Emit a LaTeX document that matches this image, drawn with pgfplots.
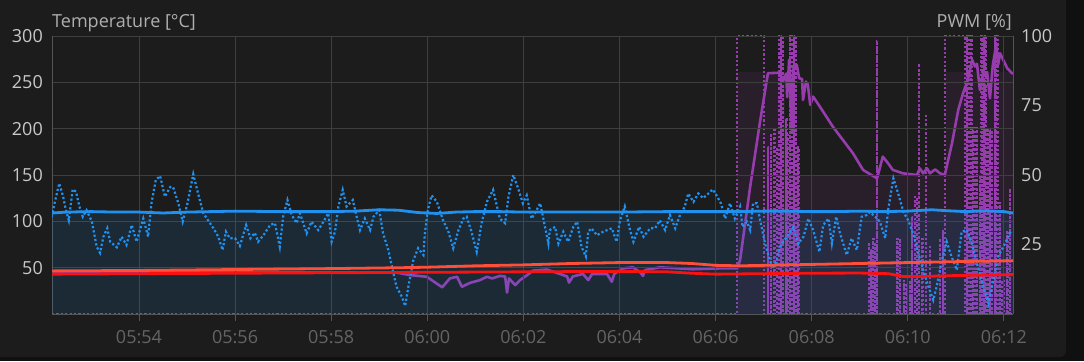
\documentclass[border=0pt]{standalone}
\usepackage{pgfplots}
\pgfplotsset{compat=1.18}
\usepackage{fontspec}
\setmainfont{Open Sans}
\definecolor{bgc}{RGB}{28,28,28}
\definecolor{outerc}{RGB}{16,16,16}
\definecolor{gridc}{RGB}{62,62,62}
\definecolor{axc}{RGB}{85,85,85}
\definecolor{bluel}{RGB}{33,145,240}
\definecolor{redl}{RGB}{250,18,18}
\definecolor{orangel}{RGB}{255,78,58}
\definecolor{purp}{RGB}{150,60,172}
\definecolor{ticklab}{RGB}{200,200,200}
\definecolor{xlab}{RGB}{100,100,100}
\definecolor{titlec}{RGB}{175,175,175}
\begin{document}
\begin{tikzpicture}[x=1bp,y=1bp]
\path[use as bounding box] (0,0) rectangle (1084,361);
\fill[outerc] (0,0) rectangle (1084,361);
\fill[bgc,rounded corners=6bp] (-10,4) rectangle (1066,371);
\fontsize{18bp}{22bp}\selectfont
% ---------- right axis: PWM ----------
\begin{axis}[
  at={(52bp,47bp)}, anchor=south west,
  scale only axis, width=961bp, height=278bp,
  xmin=52.19, xmax=72.19, ymin=0, ymax=100,
  axis x line=none, axis y line*=right,
  axis line style={draw=axc, line width=0.8bp},
  ytick={25,50,75,100},
  ytick style={draw=none},
  /pgf/number format/assume math mode=true,
  yticklabel style={anchor=west, inner sep=0pt, xshift=8bp, text=ticklab, font=\fontsize{18bp}{22bp}\selectfont},
  clip=true,
]
% PWM limit shading
\addplot[const plot mark left, fill=purp, fill opacity=0.10, draw=none] coordinates {
 (52.19,0) (66.45,87) (67.44,50) (70.80,87) (72.19,87)} \closedcycle;
% PWM output (dotted)
\addplot[const plot mark left, purp, line width=2.2bp, dash pattern=on 2.2bp off 2.2bp] coordinates {
 (52.19,0) (66.45,100) (67.01,0)
 (67.085,60) (67.095,0) (67.145,65) (67.155,0) (67.215,67) (67.225,0) (67.275,60) (67.285,0)
 (67.315,100) (67.325,0) (67.355,100) (67.365,0) (67.395,100) (67.405,0) (67.465,70) (67.475,0)
 (67.505,65) (67.515,0) (67.545,100) (67.555,0) (67.585,100) (67.595,0) (67.625,100) (67.635,0)
 (67.665,100) (67.675,0) (67.715,60) (67.725,0)
 (69.185,25) (69.195,0) (69.225,23) (69.235,0) (69.275,27) (69.285,0) (69.315,25) (69.325,0)
 (69.355,98) (69.365,0)
 (69.775,27) (69.785,0) (69.835,27) (69.845,0) (69.915,12) (69.925,0) (69.975,11) (69.985,0)
 (70.045,12) (70.055,0) (70.085,35) (70.095,0) (70.145,42) (70.155,0) (70.185,42) (70.195,0)
 (70.225,90) (70.235,0) (70.295,27) (70.305,0) (70.375,72) (70.385,0) (70.455,24) (70.465,0)
 (70.665,27) (70.675,0) (70.725,30) (70.735,0)
 (70.77,100) (71.19,0)
 (71.225,100) (71.235,0) (71.265,100) (71.275,0) (71.315,100) (71.325,0) (71.355,67) (71.365,0)
 (71.395,67) (71.405,0) (71.435,67) (71.445,0) (71.495,50) (71.505,0) (71.535,100) (71.545,0)
 (71.585,100) (71.595,0) (71.625,100) (71.635,0) (71.665,66) (71.675,0) (71.705,66) (71.715,0)
 (71.745,66) (71.755,0) (71.815,100) (71.825,0) (71.855,100) (71.865,0) (71.915,40) (71.925,0)
 (71.955,12) (71.965,0) (71.995,12) (72.005,0) (72.065,30) (72.075,0) (72.125,45) (72.135,0)
 (72.19,0)};
% PWM (solid)
\addplot[purp, line width=2.6bp, line join=round] coordinates {
 (52.19,15) (59.33,15) (59.64,14) (59.99,13.4) (60.31,9.6) (60.47,12.8) (60.62,13.4) (60.72,9.8)
 (60.89,11.2) (61.10,12.2) (61.24,13.4) (61.35,12.8) (61.51,13.7) (61.62,13.5) (61.66,7.7)
 (61.70,12.8) (61.83,10.4) (61.93,12.2) (62.08,14) (62.20,15.6) (62.49,16) (62.76,14.4)
 (62.91,13.5) (62.95,11.3) (63.03,13.5) (63.24,14.4) (63.35,12.2) (63.43,14.4) (63.74,14.4)
 (63.84,11.6) (63.89,14.4) (64.07,16.4) (64.28,16.8) (64.43,15) (64.49,13.7) (64.53,15.8)
 (64.84,16.8) (65.53,16.1) (66.09,16.4) (66.45,16.4) (66.51,19.4) (66.72,45.8) (66.92,68.6)
 (67.09,86.6) (67.34,86.8) (67.40,83.6) (67.47,86.5) (67.49,78) (67.53,91.4) (67.59,66)
 (67.61,87.8) (67.69,89.6) (67.74,84.8) (67.80,84.5) (67.82,77) (67.88,83.6) (67.92,82.5)
 (67.97,75.2) (68.03,78.2) (68.17,74.6) (68.44,67.4) (68.65,62.6) (68.86,57.8) (69.07,51.8)
 (69.36,48.8) (69.38,50) (69.48,56.6) (69.59,54.2) (69.69,51.8) (69.90,50.6) (70.19,50)
 (70.25,52.4) (70.32,50.6) (70.40,52.4) (70.46,50.6) (70.57,52) (70.67,50.6) (70.77,50)
 (70.92,61.4) (71.05,73.4) (71.15,79.4) (71.25,84.2) (71.34,91.4) (71.40,89) (71.44,90)
 (71.50,80.6) (71.57,86.6) (71.65,87) (71.71,77.6) (71.77,89.6) (71.84,96.8) (71.88,89.6)
 (71.92,93.8) (72.07,88.4) (72.17,86.6) (72.19,86.6)};
\end{axis}
% ---------- left axis: temperature ----------
\begin{axis}[
  at={(52bp,47bp)}, anchor=south west,
  scale only axis, width=961bp, height=278bp,
  xmin=52.19, xmax=72.19, ymin=0, ymax=300,
  axis x line*=bottom, axis y line*=left,
  axis line style={draw=axc, line width=0.8bp},
  xtick={54,56,58,60,62,64,66,68,70,72},
  xticklabels={05:54,05:56,05:58,06:00,06:02,06:04,06:06,06:08,06:10,06:12},
  xtick align=outside, major tick length=7bp,
  xtick style={draw=axc, line width=0.8bp},
  ytick={50,100,150,200,250,300},
  ytick style={draw=none},
  grid=major,
  major grid style={draw=gridc, line width=0.8bp},
  /pgf/number format/assume math mode=true,
  yticklabel style={anchor=east, inner sep=0pt, xshift=-9bp, text=ticklab, font=\fontsize{18bp}{22bp}\selectfont},
  xticklabel style={anchor=north, inner sep=0pt, yshift=-9.5bp, text=xlab, font=\fontsize{18bp}{22bp}\selectfont},
  clip=true,
]
% fill below temperature
\addplot[fill=bluel, fill opacity=0.12, draw=none] coordinates {
 (52.19,109) (52.5,110) (53,110.5) (53.5,110) (54,110) (54.5,109) (55,110) (55.5,110.5)
 (56,111) (57,110.5) (58,110.5) (58.5,111) (59,112.5) (59.4,112) (59.8,109.5) (60.2,108.5)
 (60.6,110) (61,110.5) (61.5,110.5) (62,110) (62.5,110) (63,110) (64,110) (65,110.5)
 (66,110.5) (66.5,110.5) (67,111) (67.5,111) (68,110.5) (68.5,110.5) (69,111) (69.5,110.5)
 (70,111) (70.5,112.5) (70.8,111.5) (71.2,110.5) (71.6,111.5) (72,110.5) (72.19,109)} \closedcycle;
% noisy temperature (dotted)
\addplot[bluel, line width=2.2bp, dash pattern=on 2.2bp off 2.2bp] coordinates {
 (52.18,105)(52.25,121)(52.34,141)(52.42,127)(52.48,112)(52.54,101)(52.62,134.5)(52.69,132)
 (52.76,116)(52.83,105)(52.91,112)(53.02,99.6)(53.12,72.6)(53.19,66)(53.26,83.4)(53.34,92.5)
 (53.40,78)(53.54,72)(53.64,83.4)(53.74,74.5)(53.85,96)(53.95,78)(54.09,103)(54.19,83.4)
 (54.26,119.5)(54.35,144.6)(54.44,149)(54.54,126.6)(54.65,137)(54.71,137)(54.82,119.5)
 (54.91,99.6)(55.01,119.5)(55.13,151)(55.23,130)(55.34,108.7)(55.44,101)(55.55,92.5)
 (55.65,83.4)(55.74,69)(55.81,88.8)(55.89,81.7)(56.00,81.7)(56.10,73.4)(56.23,96)(56.32,81.7)
 (56.41,87.7)(56.48,78)(56.59,85)(56.73,96)(56.83,98)(56.93,72.6)(57.00,105)(57.09,123)
 (57.18,106.8)(57.28,98)(57.35,108.7)(57.49,87)(57.59,99.6)(57.73,90.6)(57.84,99.6)
 (57.94,108.7)(58.01,78)(58.08,88.8)(58.15,116)(58.24,134)(58.32,116)(58.45,123)(58.53,105)
 (58.60,90.6)(58.70,103)(58.81,90.6)(58.88,105)(59.00,112)(59.08,87)(59.19,69)(59.28,47.5)
 (59.36,29.5)(59.47,18.7)(59.54,8.6)(59.60,27.7)(59.71,58)(59.81,71)(59.92,63.7)(59.95,87)
 (60.01,112)(60.09,128)(60.20,121)(60.33,101)(60.44,88.8)(60.54,71)(60.65,90.6)(60.75,103)
 (60.82,105)(60.92,88.8)(61.03,67)(61.13,98)(61.24,121)(61.37,134)(61.51,103)(61.62,98)
 (61.69,126.6)(61.79,150)(61.89,135.6)(61.99,119.5)(62.07,128)(62.17,103)(62.24,108.7)
 (62.35,119.5)(62.45,94)(62.52,76)(62.55,90.6)(62.66,94)(62.73,76)(62.83,88.8)(62.93,78)
 (63.04,94)(63.12,99.6)(63.21,72.6)(63.30,62)(63.35,88.8)(63.42,92.5)(63.53,85)(63.66,88.8)
 (63.84,92.5)(63.94,78)(64.01,101)(64.11,116)(64.22,90.6)(64.29,78)(64.41,94)(64.50,83.4)
 (64.64,92.5)(64.74,92.5)(64.84,101)(64.95,90.6)(65.05,106.8)(65.16,92.5)(65.26,106.8)
 (65.36,116)(65.43,130)(65.54,121)(65.64,130)(65.74,125)(65.85,130)(65.94,134.5)(66.02,128)
 (66.11,119.5)(66.20,103)(66.30,119.5)(66.40,103)(66.51,116)(66.56,94)(66.65,99.6)(66.72,90.6)
 (66.78,119.5)(66.86,119.5)(66.92,103)(67.03,76)(67.13,58)(67.19,49)(67.27,58)(67.34,72.6)
 (67.48,83.4)(67.62,94)(67.72,76)(67.83,83.4)(67.93,103)(68.03,90.6)(68.16,67)(68.24,96)
 (68.35,103)(68.42,76)(68.51,105)(68.59,87)(68.73,63.7)(68.83,81.7)(68.94,69)(69.04,105)
 (69.15,106.8)(69.21,110)(69.32,105)(69.42,99.6)(69.53,81.7)(69.59,112)(69.70,146.4)(69.80,130)
 (69.91,110)(70.01,101)(70.11,87)(70.22,65.5)(70.32,47.5)(70.43,29.5)(70.53,15)(70.60,29.5)
 (70.71,58)(70.81,78)(70.91,62)(71.02,47.5)(71.12,88.8)(71.23,90.6)(71.33,76)(71.43,56.4)
 (71.57,29.5)(71.68,11.5)(71.78,36.7)(71.88,62)(71.99,72.6)(72.09,83.4)(72.16,90.6)};
% upper red-orange
\addplot[orangel, line width=2.8bp, line join=round] coordinates {
 (52.19,46.5) (54,47) (56,48) (58,49) (59.5,50) (60,50.5) (61,52) (62,53) (63,54.5) (64,55.5)
 (65,55.5) (65.5,54.5) (66,52.5) (66.5,52) (67,52.5) (68,53.5) (69,54.5) (70,55.5) (71,56.5) (72.19,57.5)};
% lower red
\addplot[redl, line width=2.8bp, line join=round] coordinates {
 (52.19,43) (54,43.5) (56,44) (58,44.5) (60,45) (62,45.5) (64,46) (65,45.5) (65.5,44) (66,43)
 (67,43.5) (68,44) (69,44.2) (69.6,43.5) (69.9,40.5) (70.3,40.5) (71,41.5) (72.19,42.5)};
% main temperature
\addplot[bluel, line width=2.8bp, line join=round] coordinates {
 (52.19,109) (52.5,110) (53,110.5) (53.5,110) (54,110) (54.5,109) (55,110) (55.5,110.5)
 (56,111) (57,110.5) (58,110.5) (58.5,111) (59,112.5) (59.4,112) (59.8,109.5) (60.2,108.5)
 (60.6,110) (61,110.5) (61.5,110.5) (62,110) (62.5,110) (63,110) (64,110) (65,110.5)
 (66,110.5) (66.5,110.5) (67,111) (67.5,111) (68,110.5) (68.5,110.5) (69,111) (69.5,110.5)
 (70,111) (70.5,112.5) (70.8,111.5) (71.2,110.5) (71.6,111.5) (72,110.5) (72.19,109)};
\end{axis}
\node[anchor=base west, inner sep=0pt, text=titlec] at (52,334) {Temperature [°C]};
\node[anchor=base east, inner sep=0pt, text=titlec] at (1012,334) {PWM [\%]};
\end{tikzpicture}
\end{document}
